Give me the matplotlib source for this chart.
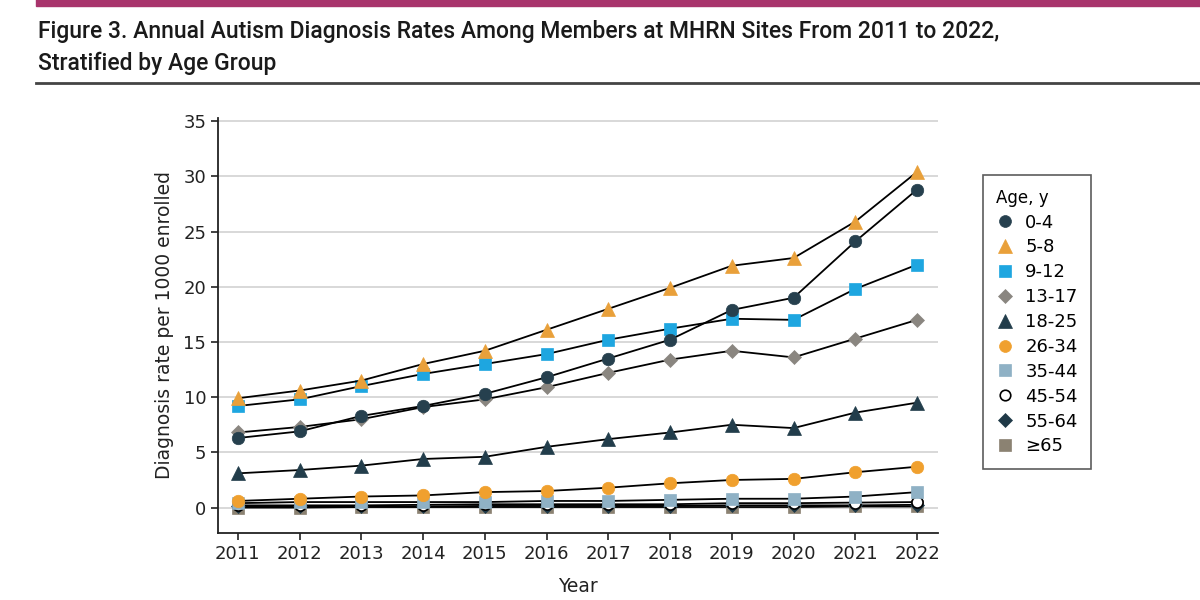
import matplotlib
matplotlib.use('Agg')
import matplotlib.pyplot as plt
from matplotlib.lines import Line2D

# --- DATA ---
years = [2011, 2012, 2013, 2014, 2015, 2016, 2017, 2018, 2019, 2020, 2021, 2022]

age_0_4 = [6.3, 6.9, 8.3, 9.2, 10.3, 11.8, 13.5, 15.2, 17.9, 19.0, 24.1, 28.8]
age_5_8 = [9.9, 10.6, 11.5, 13.0, 14.2, 16.1, 18.0, 19.9, 21.9, 22.6, 25.9, 30.4]
age_9_12 = [9.2, 9.8, 11.0, 12.1, 13.0, 13.9, 15.2, 16.2, 17.1, 17.0, 19.8, 22.0]
age_13_17 = [6.8, 7.3, 8.0, 9.1, 9.8, 10.9, 12.2, 13.4, 14.2, 13.6, 15.3, 17.0]
age_18_25 = [3.1, 3.4, 3.8, 4.4, 4.6, 5.5, 6.2, 6.8, 7.5, 7.2, 8.6, 9.5]
age_26_34 = [0.6, 0.8, 1.0, 1.1, 1.4, 1.5, 1.8, 2.2, 2.5, 2.6, 3.2, 3.7]
age_35_44 = [0.4, 0.5, 0.5, 0.5, 0.5, 0.6, 0.6, 0.7, 0.8, 0.8, 1.0, 1.4]
age_45_54 = [0.2, 0.2, 0.2, 0.25, 0.3, 0.3, 0.3, 0.3, 0.4, 0.4, 0.45, 0.5]
age_55_64 = [0.1, 0.1, 0.1, 0.1, 0.15, 0.15, 0.15, 0.15, 0.2, 0.2, 0.2, 0.25]
age_65 = [0.0, 0.0, 0.05, 0.05, 0.05, 0.05, 0.05, 0.05, 0.05, 0.05, 0.1, 0.1]

labels = ['0-4', '5-8', '9-12', '13-17', '18-25', '26-34', '35-44', '45-54', '55-64', '\u226565']
series = [age_0_4, age_5_8, age_9_12, age_13_17, age_18_25,
          age_26_34, age_35_44, age_45_54, age_55_64, age_65]

# style per series: marker, face colour, size
styles = [
    ('o', '#26404e', 9),
    ('^', '#e9a03a', 10),
    ('s', '#1ea6e0', 9),
    ('D', '#8a8680', 7),
    ('^', '#223d4b', 10),
    ('o', '#f0a02e', 9),
    ('s', '#8fb1c5', 9),
    ('o', 'white', 8),
    ('D', '#1f3947', 7),
    ('s', '#8b8272', 9),
]

plt.rcParams['font.family'] = ['DejaVu Sans']

fig = plt.figure(figsize=(12, 6), dpi=100)
ax = fig.add_axes([0.1817, 0.1117, 0.6, 0.692])

# draw the low series first so the big ones sit on top
for vals, lab, (mk, col, ms) in reversed(list(zip(series, labels, styles))):
    edge = 'black' if col == 'white' else col
    ax.plot(years, vals, color='black', linewidth=1.3, marker=mk, markersize=ms,
            markerfacecolor=col, markeredgecolor=edge, markeredgewidth=1.2 if col == 'white' else 0.5,
            label=lab, zorder=3)

ax.set_xlim(2010.68, 2022.34)
ax.set_ylim(-2.3, 35.3)
ax.set_yticks(range(0, 36, 5))
ax.set_xticks(years)
ax.tick_params(axis='both', labelsize=13, length=5, width=1.2, color='#222222', labelcolor='#222222')
ax.grid(axis='y', color='#d5d5d5', linewidth=1.3, zorder=0)
for s in ['top', 'right']:
    ax.spines[s].set_visible(False)
for s in ['left', 'bottom']:
    ax.spines[s].set_linewidth(1.3)
    ax.spines[s].set_color('#222222')

ax.set_xlabel('Year', fontsize=13.5, color='#222222', labelpad=10)
ax.set_ylabel('Diagnosis rate per 1000 enrolled', fontsize=13.5, color='#222222', labelpad=7)

# legend in the original order, markers only
handles = []
for lab, (mk, col, ms) in zip(labels, styles):
    edge = 'black' if col == 'white' else col
    handles.append(Line2D([], [], linestyle='none', marker=mk, markersize=ms * 0.95,
                          markerfacecolor=col, markeredgecolor=edge,
                          markeredgewidth=1.2 if col == 'white' else 0.5, label=lab))
leg = fig.legend(handles=handles, title='Age, y', loc='upper left',
                 bbox_to_anchor=(0.8115, 0.723), frameon=True, fancybox=False,
                 fontsize=13, title_fontsize=12, handlelength=1.0, handletextpad=0.6,
                 labelspacing=0.38, borderpad=0.75, alignment='left')
leg.get_frame().set_edgecolor('#333333')
leg.get_frame().set_linewidth(1.2)

# header: magenta bar, title, rule
fig.patches.append(plt.Rectangle((0.03, 0.99), 0.97, 0.012, transform=fig.transFigure,
                                 color='#a8346c', zorder=5))
title_font = ['Roboto', 'DejaVu Sans']
fig.text(0.032, 0.948, 'Figure 3. Annual Autism Diagnosis Rates Among Members at MHRN Sites From 2011 to 2022,',
         fontsize=16.5, family=title_font, weight='medium', va='center', color='#1a1a1a')
fig.text(0.032, 0.895, 'Stratified by Age Group',
         fontsize=16.5, family=title_font, weight='medium', va='center', color='#1a1a1a')
fig.add_artist(Line2D([0.03, 1.0], [0.861, 0.861], transform=fig.transFigure,
                      color='#444444', linewidth=2))

fig.savefig('out.png', dpi=100)
